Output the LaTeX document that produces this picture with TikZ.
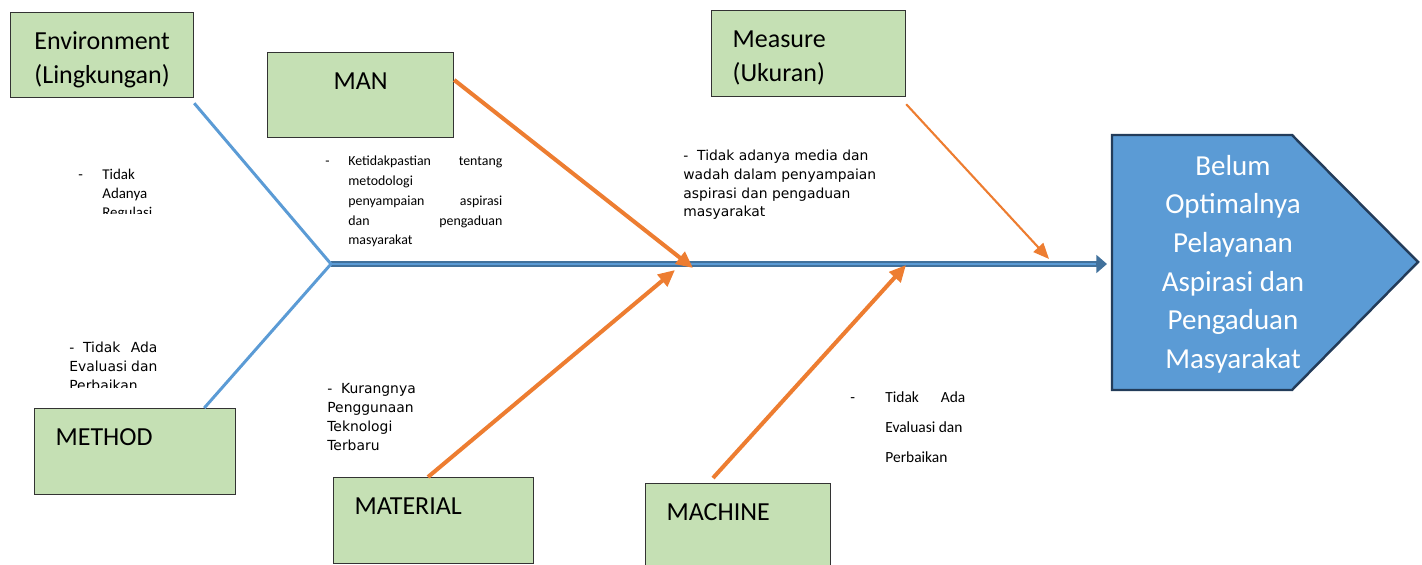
\documentclass[tikz,border=0pt]{standalone}
\usepackage{fontspec}
\setmainfont{Carlito}
\newfontfamily\tahoma{DejaVu Sans}
\usetikzlibrary{arrows.meta,calc}

\begin{document}
\begin{tikzpicture}[
  box/.style={draw=black!80, line width=.7pt, fill=boxgreen, anchor=north west,
    inner sep=0pt, text height=.74cm, font=\fontsize{14.8}{19.4}\selectfont},
  boxmid/.style={box, align=center},
  boxleft/.style={box, align=left, inner xsep=.42cm},
  bone/.style={draw=bonblue, line width=1.7pt},
  cause/.style={draw=causeorange, line width=2.3pt, -{Triangle[length=9.5pt,width=8.5pt]}},
  thincause/.style={draw=causeorange, line width=1.2pt, -{Triangle[length=9pt,width=7.5pt]}},
  note/.style={anchor=base west, inner sep=0pt},
  smallnote/.style={note, font=\fontsize{8.5}{10.8}\selectfont},
  tahomanote/.style={note, font=\tahoma\fontsize{7.9}{10.6}\selectfont},
  effecttext/.style={text=white, align=center, font=\fontsize{16.5}{22}\selectfont}
]

\definecolor{boxgreen}{RGB}{197,224,180}
\definecolor{bonblue}{RGB}{91,155,213}
\definecolor{spinedark}{RGB}{65,113,156}
\definecolor{causeorange}{RGB}{237,125,49}
\definecolor{effectedge}{RGB}{35,60,90}

\useasboundingbox (0,0) rectangle (28.44,-11.30);

% category boxes
\node[boxmid, text width=3.66cm, text depth=.96cm] (env) at (0.20,-0.24)
  {Environment\\(Lingkungan)};
\node[boxmid, text width=3.72cm, text depth=.96cm] (man) at (5.34,-1.04) {MAN};
\node[boxleft, text width=3.04cm, text depth=.98cm] (measure) at (14.22,-0.20)
  {Measure\\(Ukuran)};
\node[boxleft, text width=3.18cm, text depth=.98cm] (method) at (0.68,-8.16) {METHOD};
\node[boxleft, text width=3.16cm, text depth=.98cm] (material) at (6.66,-9.54) {MATERIAL};
\node[boxleft, text width=2.86cm, text depth=.98cm] (machine) at (12.90,-9.66) {MACHINE};

% effect (head of the fish)
\draw[fill=bonblue, draw=effectedge, line width=1.4pt]
  (22.24,-2.70) -- (25.84,-2.70) -- (28.36,-5.24) -- (25.84,-7.80)
  -- (22.24,-7.80) -- cycle;
\node[effecttext] (effect) at (24.66,-5.28)
  {Belum\\Optimalnya\\Pelayanan\\Aspirasi dan\\Pengaduan\\Masyarakat};

% spine
\coordinate (joint) at (6.62,-5.28);
\coordinate (head) at (22.14,-5.28);
\draw[spinedark, line width=3.4pt, -{Triangle[length=6pt,width=10pt]}] (joint) -- (head);
\draw[bonblue, line width=1.2pt, shorten >=6pt] (joint) -- (head);

% bones
\draw[bone] ($(env.south east)+(0,-.1)$) -- (joint);
\draw[bone] ($(method.north east)+(-.64,0)$) -- (joint);

\coordinate (manhit) at (13.86,-5.36);
\coordinate (measurehit) at (20.98,-5.18);
\coordinate (materialhit) at (13.50,-5.40);
\coordinate (machinehit) at (18.12,-5.30);

\draw[cause] ($(man.north east)+(0,-.56)$) -- (manhit);
\draw[thincause] ($(measure.south east)+(0,-.14)$) -- (measurehit);
\draw[cause] ($(material.north west)+(1.9,0)$) -- (materialhit);
\draw[cause] ($(machine.north west)+(1.36,.1)$) -- (machinehit);

% causes
\begin{scope}
  \clip (1.2,-3.0) rectangle (3.4,-4.27);
  \node[smallnote] (envcause) at (1.56,-3.60)
    {\makebox[.48cm][l]{-}\parbox[t]{1.3cm}{Tidak\\Adanya\\Regulasi}};
\end{scope}

\node[note, font=\fontsize{7.9}{11.2}\selectfont] (mancause) at (6.50,-3.32)
  {\makebox[.46cm][l]{-}\parbox[t]{3.08cm}{Ketidakpastian\hfill tentang\\
    metodologi\\penyampaian\hfill aspirasi\\dan\hfill pengaduan\\masyarakat}};

\node[tahomanote] (measurecause) at (13.66,-3.22)
  {\parbox[t]{4.2cm}{-\ \ Tidak adanya media dan\\wadah dalam penyampaian\\
    aspirasi dan pengaduan\\masyarakat}};

\begin{scope}
  \clip (1.2,-6.6) rectangle (3.4,-7.76);
  \node[tahomanote, font=\tahoma\fontsize{7.9}{10.8}\selectfont] (methodcause) at (1.38,-7.06)
    {\parbox[t]{1.76cm}{-\ \ Tidak\hfill Ada\\Evaluasi dan\\Perbaikan}};
\end{scope}

\node[tahomanote, font=\tahoma\fontsize{7.9}{10.8}\selectfont] (materialcause) at (6.54,-7.88)
  {\parbox[t]{2cm}{-\ \ Kurangnya\\Penggunaan\\Teknologi\\Terbaru}};

\node[note, font=\fontsize{8.8}{16.8}\selectfont] (machinecause) at (17.00,-8.06)
  {\makebox[.70cm][l]{-}\parbox[t]{1.6cm}{Tidak\hfill Ada\\Evaluasi dan\\Perbaikan}};

\end{tikzpicture}
\end{document}
